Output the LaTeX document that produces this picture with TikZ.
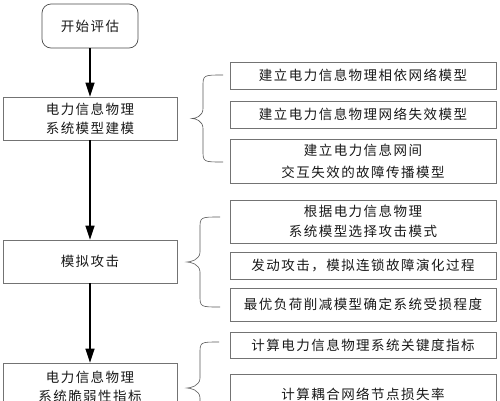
\documentclass[tikz,border=0pt]{standalone}
\usepackage{fontspec}
\newfontfamily\cjk[LetterSpace=11]{Noto Sans CJK SC}
\usetikzlibrary{arrows.meta}
\begin{document}
\begin{tikzpicture}[x=1pt,y=-1pt,
  txt/.style={font=\cjk\fontsize{13.5}{19}\selectfont, text=black!90, align=center, inner sep=0pt},
  startbox/.style={txt, draw=black!70, line width=0.7pt, rounded corners=9pt, minimum width=96pt, minimum height=44pt},
  leftbox/.style={txt, draw=black!55, line width=0.6pt, minimum width=174pt, minimum height=43pt},
  rightbox/.style={txt, draw=black!55, line width=0.6pt, minimum width=266pt},
  flow/.style={line width=1.3pt, black, -{Triangle[length=14pt,width=9pt]}},
  bracel/.style={draw=black!65, line width=0.6pt}
]
\useasboundingbox (0,0) rectangle (500,400);
\fill[white] (0,0) rectangle (500,400);

% left column
\node[startbox] (s) at (90,26) {开始评估};
\node[leftbox] (m) at (90,118.5) {电力信息物理\\系统模型建模};
\node[leftbox] (a) at (90,261.5) {模拟攻击};
\node[leftbox, minimum height=48pt] (v) at (90,387) {电力信息物理\\系统脆弱性指标};

\draw[flow] (s) -- (m);
\draw[flow] (m) -- (a);
\draw[flow] (a) -- (v);

% right column
\node[rightbox, minimum height=27pt] (r1) at (363,75.5) {建立电力信息物理相依网络模型};
\node[rightbox, minimum height=27pt] (r2) at (363,114.5) {建立电力信息物理网络失效模型};
\node[rightbox, minimum height=44pt, font=\cjk\fontsize{13.5}{22}\selectfont] (r3) at (363,161) {建立电力信息网间\\交互失效的故障传播模型};
\node[rightbox, minimum height=43pt, font=\cjk\fontsize{13.5}{20}\selectfont] (r4) at (363,221.5) {根据电力信息物理\\系统模型选择攻击模式};
\node[rightbox, minimum height=27pt] (r5) at (363,265.5) {发动攻击，模拟连锁故障演化过程};
\node[rightbox, minimum height=33pt] (r6) at (363,304.5) {最优负荷削减模型确定系统受损程度};
\node[rightbox, minimum height=26pt] (r7) at (363,345) {计算电力信息物理系统关键度指标};
\node[rightbox, minimum height=40pt] (r8) at (363,394) {计算耦合网络节点损失率};

% braces: tip x, vertical x, end x, top y, bottom y
\foreach \xt/\xv/\xe/\yt/\yb in {192/203/223/75/162, 187/200/220/217/307, 187/200/219/342/434} {
  \pgfmathsetmacro{\ym}{(\yt+\yb)/2}
  \draw[bracel] (\xe,\yt) .. controls (\xv,\yt) and (\xv,\yt) .. (\xv,\yt+12)
    -- (\xv,\ym-10) .. controls (\xv,\ym-2) and (\xt+3,\ym) .. (\xt,\ym)
    .. controls (\xt+3,\ym) and (\xv,\ym+2) .. (\xv,\ym+10)
    -- (\xv,\yb-12) .. controls (\xv,\yb) and (\xv,\yb) .. (\xe,\yb);
}
\end{tikzpicture}
\end{document}
